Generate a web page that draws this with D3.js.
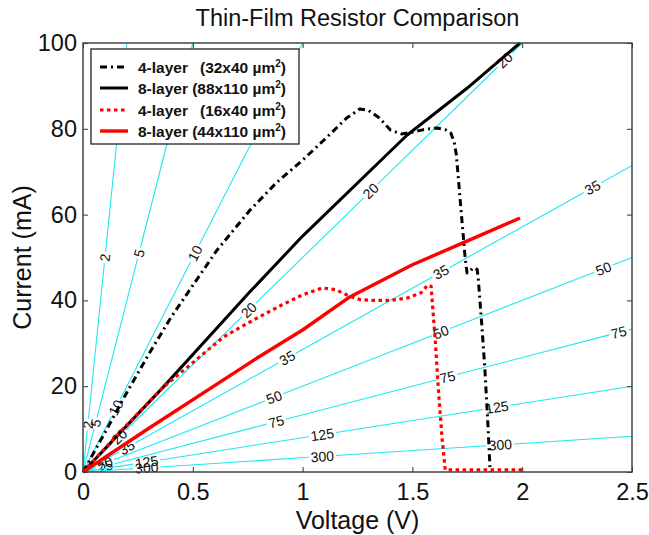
<!DOCTYPE html>
<html>
<head>
<meta charset="utf-8">
<script src="https://cdn.jsdelivr.net/npm/d3@7"></script>
<style>
  body { margin: 0; background: #fff; }
  svg { display: block; font-family: Arial, 'Liberation Sans', Helvetica, sans-serif; }
</style>
</head>
<body>
<svg width="649" height="535"></svg>
<script>
// values
const xTicks = [0, 0.5, 1, 1.5, 2, 2.5];
const yTicks = [0, 20, 40, 60, 80, 100];
const xTickLabels = ['0', '0.5', '1', '1.5', '2', '2.5'];
const yTickLabels = ['0', '20', '40', '60', '80', '100'];

// resistance contours (ohms) and the voltages where each one carries a label
const resLevels = [2, 5, 10, 20, 35, 50, 75, 125, 300];
const resLabelV = [
  [0.022, 0.10],
  [0.057, 0.255],
  [0.15, 0.51],
  [0.165, 0.755, 1.31, 1.92],
  [0.2, 0.93, 1.63, 2.32],
  [0.1, 0.87, 1.63, 2.37],
  [0.1, 0.88, 1.66, 2.44],
  [0.29, 1.09, 1.885],
  [0.29, 1.09, 1.9]
];

// [voltage V, current mA]
const fourLayer32x40 = [[0,0],[0.05,4.6],[0.1,9.2],[0.21,19.5],[0.3,27.5],[0.4,36],[0.5,43.5],
  [0.61,51.7],[0.76,61],[0.88,67.4],[1.0,72.7],[1.1,77.5],[1.2,82.5],[1.26,84.6],[1.3,84.3],
  [1.35,82.5],[1.4,79.7],[1.45,78.8],[1.5,79.2],[1.55,79.8],[1.61,80.2],[1.65,79.8],[1.675,79],
  [1.69,77],[1.7,74],[1.72,62],[1.74,50],[1.749,46.4],[1.76,46.6],[1.775,47.6],[1.795,47.2],
  [1.8,45],[1.815,35],[1.83,24],[1.845,10],[1.853,1.2],[1.855,0]];
const eightLayer88x110 = [[0,0],[0.36,19.5],[0.76,42],[1.0,55],[1.475,78.5],[1.75,89.5],[1.99,100]];
const fourLayer16x40 = [[0,0],[0.2,11],[0.36,19.5],[0.5,25.5],[0.64,31.5],[0.775,35.4],[0.9,38.8],
  [1.0,41.3],[1.09,42.9],[1.15,42.5],[1.2,41.3],[1.26,40.2],[1.32,40],[1.4,40],[1.48,40.6],
  [1.54,41.8],[1.57,43.6],[1.585,43.3],[1.59,40],[1.605,30],[1.62,18],[1.635,8],[1.648,1.2],
  [1.65,0.5],[2.0,0.5]];
const eightLayer44x110 = [[0,0],[0.3,10.2],[0.58,19.5],[0.8,26.8],[1.0,33.1],[1.215,40.8],
  [1.5,48.3],[1.73,53.4],[1.99,59.2]];

const legendNames = ['4-layer', '8-layer', '4-layer', '8-layer'];
const legendSizes = ['(32x40 \u00b5m', '(88x110 \u00b5m', '(16x40 \u00b5m', '(44x110 \u00b5m'];

const margin = {top: 43, right: 17, bottom: 63, left: 83};
const width = 649, height = 535;
const innerWidth = width - margin.left - margin.right;
const innerHeight = height - margin.top - margin.bottom;

const svg = d3.select('svg');
const g = svg.append('g').attr('transform', `translate(${margin.left},${margin.top})`);

const xScale = d3.scaleLinear().domain([0, 2.5]).range([0, innerWidth]);
const yScale = d3.scaleLinear().domain([0, 100]).range([innerHeight, 0]);

// cyan resistance contours, broken where the labels sit
const contourG = g.append('g');
resLevels.forEach((r, k) => {
  const vEnd = Math.min(2.5, r * 0.1);
  const x0 = xScale(0), y0 = yScale(0);
  const x1 = xScale(vEnd), y1 = yScale(1000 * vEnd / r);
  const len = Math.hypot(x1 - x0, y1 - y0);
  const ux = (x1 - x0) / len, uy = (y1 - y0) / len;
  const ang = Math.atan2(y1 - y0, x1 - x0) * 180 / Math.PI;
  const text = String(r);
  const half = text.length * 7.8 / 2 + 2;
  const cuts = resLabelV[k].map(v => Math.hypot(xScale(v) - x0, yScale(1000 * v / r) - y0)).sort((a, b) => a - b);
  let start = 0;
  const segs = [];
  cuts.forEach(t => { segs.push([start, t - half]); start = t + half; });
  segs.push([start, len]);
  segs.filter(s => s[1] > s[0]).forEach(s => {
    contourG.append('line')
      .attr('x1', x0 + ux * s[0]).attr('y1', y0 + uy * s[0])
      .attr('x2', x0 + ux * s[1]).attr('y2', y0 + uy * s[1])
      .attr('stroke', '#1fe8f0')
      .attr('stroke-width', 1.1);
  });
  resLabelV[k].forEach(v => {
    contourG.append('text')
      .attr('transform', `translate(${xScale(v)},${yScale(1000 * v / r)}) rotate(${ang})`)
      .attr('text-anchor', 'middle')
      .attr('dominant-baseline', 'central')
      .attr('font-size', 14)
      .attr('fill', '#111')
      .text(text);
  });
});

// data curves
const line = d3.line().x(d => xScale(d[0])).y(d => yScale(d[1]));
const series = [
  {data: fourLayer32x40, color: '#000', width: 3, dash: '7,4,2,4'},
  {data: eightLayer88x110, color: '#000', width: 3, dash: null},
  {data: fourLayer16x40, color: '#f00', width: 3.2, dash: '3.5,3.5'},
  {data: eightLayer44x110, color: '#f00', width: 3.4, dash: null}
];
series.forEach(s => {
  g.append('path')
    .attr('d', line(s.data))
    .attr('fill', 'none')
    .attr('stroke', s.color)
    .attr('stroke-width', s.width)
    .attr('stroke-dasharray', s.dash)
    .attr('stroke-linejoin', 'round');
});

// axes with inward ticks on all four sides
const tickFont = 23.5;
const labelFont = 25;
g.append('g').attr('transform', `translate(0,${innerHeight})`)
  .call(d3.axisBottom(xScale).tickValues(xTicks).tickSize(-5).tickPadding(11)
    .tickFormat((d, i) => xTickLabels[i]));
g.append('g')
  .call(d3.axisLeft(yScale).tickValues(yTicks).tickSize(-5).tickPadding(6)
    .tickFormat((d, i) => yTickLabels[i]));
g.append('g').call(d3.axisTop(xScale).tickValues(xTicks).tickSize(-5).tickFormat(''));
g.append('g').attr('transform', `translate(${innerWidth},0)`)
  .call(d3.axisRight(yScale).tickValues(yTicks).tickSize(-5).tickFormat(''));
g.selectAll('.domain').remove();
g.selectAll('.tick line').attr('stroke', '#333');
g.selectAll('.tick text').attr('font-size', tickFont).attr('font-family', null).attr('fill', '#111');

g.append('rect')
  .attr('width', innerWidth).attr('height', innerHeight)
  .attr('fill', 'none').attr('stroke', '#444').attr('stroke-width', 1.5);

// titles
svg.append('text')
  .attr('x', margin.left + innerWidth / 2).attr('y', 26)
  .attr('text-anchor', 'middle').attr('font-size', 23.5).attr('fill', '#111')
  .text('Thin-Film Resistor Comparison');
svg.append('text')
  .attr('x', margin.left + innerWidth / 2).attr('y', 529)
  .attr('text-anchor', 'middle').attr('font-size', labelFont).attr('fill', '#111')
  .text('Voltage (V)');
svg.append('text')
  .attr('transform', `translate(31,${margin.top + innerHeight / 2}) rotate(-90)`)
  .attr('text-anchor', 'middle').attr('font-size', labelFont).attr('fill', '#111')
  .text('Current (mA)');

// legend
const legend = svg.append('g').attr('transform', 'translate(91,49)');
legend.append('rect')
  .attr('width', 208).attr('height', 95)
  .attr('fill', '#fff').attr('stroke', '#222').attr('stroke-width', 1.3);
const rowY = [18, 39, 61, 82];
series.forEach((s, i) => {
  legend.append('line')
    .attr('x1', 9).attr('x2', 37).attr('y1', rowY[i]).attr('y2', rowY[i])
    .attr('stroke', s.color).attr('stroke-width', s.width)
    .attr('stroke-dasharray', s.dash);
  legend.append('text')
    .attr('x', 47).attr('y', rowY[i] + 5.5)
    .attr('font-size', 15.5).attr('font-weight', 'bold').attr('fill', '#111')
    .text(legendNames[i]);
  const t = legend.append('text')
    .attr('x', 195).attr('y', rowY[i] + 5.5)
    .attr('text-anchor', 'end')
    .attr('font-size', 15.5).attr('font-weight', 'bold').attr('fill', '#111');
  t.append('tspan').text(legendSizes[i]);
  t.append('tspan').attr('dy', -6).attr('font-size', 10).text('2');
  t.append('tspan').attr('dy', 6).text(')');
});
</script>
</body>
</html>
